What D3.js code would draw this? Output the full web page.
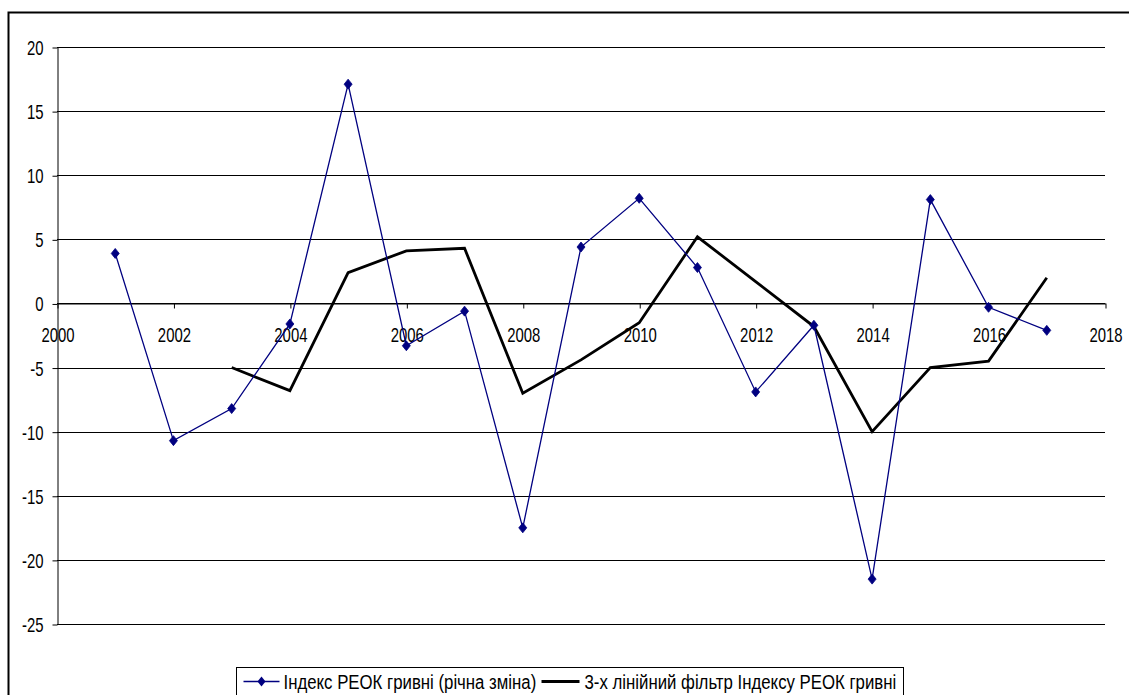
<!DOCTYPE html>
<html>
<head>
<meta charset="utf-8">
<script src="https://cdn.jsdelivr.net/npm/d3@7"></script>
<style>
  body { margin: 0; background: #fff; }
  svg { display: block; font-family: "Liberation Sans", Arial, sans-serif; }
</style>
</head>
<body>
<svg id="chart" width="1129" height="695"></svg>
<script>
// Індекс РЕОК гривні (річна зміна)
const years = [2001, 2002, 2003, 2004, 2005, 2006, 2007, 2008, 2009, 2010, 2011, 2012, 2013, 2014, 2015, 2016, 2017];
const reocChange = [3.9, -10.7, -8.2, -1.6, 17.1, -3.3, -0.6, -17.5, 4.4, 8.2, 2.8, -6.9, -1.7, -21.5, 8.1, -0.3, -2.1];

// 3-х лінійний фільтр
const filterYears = [2003, 2004, 2005, 2006, 2007, 2008, 2009, 2010, 2011, 2012, 2013, 2014, 2015, 2016, 2017];
const filterValues = [-5.0, -6.8, 2.4, 4.1, 4.3, -7.0, -4.4, -1.5, 5.2, 1.7, -1.8, -10.0, -5.0, -4.5, 2.0];

const xTicks = [2000, 2002, 2004, 2006, 2008, 2010, 2012, 2014, 2016, 2018];
const yTicks = [-25, -20, -15, -10, -5, 0, 5, 10, 15, 20];

const legendLabels = ["Індекс РЕОК гривні (річна зміна)", "3-х лінійний фільтр Індексу РЕОК гривні"];

const svg = d3.select("#chart");
const narrow = 0.71;       // текст у оригіналі стиснутий по горизонталі
const legendNarrow = 0.8;
const fontSize = 21;

// рамка
svg.append("rect")
  .attr("x", 8.5).attr("y", 12.5)
  .attr("width", 1300).attr("height", 900)
  .attr("fill", "#fff")
  .attr("stroke", "#000")
  .attr("stroke-width", 2);

const x = d3.scaleLinear().domain([2000, 2018]).range([57, 1105]);
const y = d3.scaleLinear().domain([-25, 20]).range([624, 47]);

// сітка
svg.append("g")
  .selectAll("line")
  .data(yTicks)
  .enter()
  .append("line")
  .attr("x1", x(2000)).attr("x2", x(2018))
  .attr("y1", d => Math.round(y(d)) + 0.5)
  .attr("y2", d => Math.round(y(d)) + 0.5)
  .attr("stroke", "#000")
  .attr("stroke-width", 1);

// Y-вісь (звичайний дефіс замість мінуса, як в оригіналі)
const yAxis = svg.append("g")
  .attr("transform", `translate(${x(2000) + 0.5}, 0.5)`)
  .call(d3.axisLeft(y).tickValues(yTicks).tickSize(5).tickSizeOuter(0).tickFormat(d => String(d)));

yAxis.select(".domain").attr("stroke", "#000");
yAxis.selectAll("text")
  .attr("x", 0).attr("y", 0).attr("dy", null)
  .attr("transform", `translate(-14, 7) scale(${narrow}, 1)`)
  .attr("font-size", fontSize)
  .attr("font-family", "Liberation Sans, Arial, sans-serif")
  .attr("fill", "#000");

// X-вісь на нулі
const xAxis = svg.append("g")
  .attr("transform", `translate(0.5, ${Math.round(y(0)) + 0.5})`)
  .call(d3.axisBottom(x).tickValues(xTicks).tickSize(5).tickSizeOuter(0).tickFormat(d => String(d)));

xAxis.select(".domain").attr("stroke", "#000");
xAxis.selectAll("text")
  .attr("x", 0).attr("y", 0).attr("dy", null)
  .attr("transform", `translate(0, 38) scale(${narrow}, 1)`)
  .attr("font-size", fontSize)
  .attr("font-family", "Liberation Sans, Arial, sans-serif")
  .attr("fill", "#000");

const navy = "#000080";
const diamond = "M0,-5L4,0L0,5L-4,0Z";

// фільтр - чорна лінія
const filterData = filterYears.map((yr, i) => ({ year: yr, value: filterValues[i] }));
svg.append("path")
  .datum(filterData)
  .attr("fill", "none")
  .attr("stroke", "#000")
  .attr("stroke-width", 2.8)
  .attr("d", d3.line().x(d => x(d.year)).y(d => y(d.value)));

// індекс - синя лінія з ромбами
const reocData = years.map((yr, i) => ({ year: yr, value: reocChange[i] }));
svg.append("path")
  .datum(reocData)
  .attr("fill", "none")
  .attr("stroke", navy)
  .attr("stroke-width", 1.3)
  .attr("d", d3.line().x(d => x(d.year)).y(d => y(d.value)));

svg.append("g")
  .selectAll("path")
  .data(reocData)
  .enter()
  .append("path")
  .attr("transform", d => `translate(${x(d.year)}, ${y(d.value)})`)
  .attr("d", diamond)
  .attr("fill", navy)
  .attr("stroke", navy)
  .attr("stroke-width", 0.8);

// легенда - розміри рахуємо після вимірювання тексту
const legend = svg.append("g");
const legendBox = legend.append("rect")
  .attr("y", 667.5)
  .attr("height", 60)
  .attr("fill", "#fff")
  .attr("stroke", "#000")
  .attr("stroke-width", 1);

const line1 = legend.append("line")
  .attr("y1", 681.5).attr("y2", 681.5)
  .attr("stroke", navy).attr("stroke-width", 1.3);
const marker1 = legend.append("path")
  .attr("d", diamond)
  .attr("fill", navy);
const text1 = legend.append("text")
  .attr("font-size", fontSize)
  .attr("fill", "#000")
  .text(legendLabels[0]);

const line2 = legend.append("line")
  .attr("y1", 681.5).attr("y2", 681.5)
  .attr("stroke", "#000").attr("stroke-width", 2.8);
const text2 = legend.append("text")
  .attr("font-size", fontSize)
  .attr("fill", "#000")
  .text(legendLabels[1]);

const w1 = text1.node().getComputedTextLength() * legendNarrow;
const w2 = text2.node().getComputedTextLength() * legendNarrow;
const total = 7 + 36 + 4 + w1 + 5 + 38 + 5 + w2 + 7;
const left = Math.round(569 - total / 2) + 0.5;

legendBox.attr("x", left).attr("width", Math.round(total));
line1.attr("x1", left + 7).attr("x2", left + 43);
marker1.attr("transform", `translate(${left + 25}, 681.5)`);
text1.attr("transform", `translate(${left + 47}, 689) scale(${legendNarrow}, 1)`);
const l2 = left + 47 + w1 + 5;
line2.attr("x1", l2).attr("x2", l2 + 38);
text2.attr("transform", `translate(${l2 + 43}, 689) scale(${legendNarrow}, 1)`);
</script>
</body>
</html>
